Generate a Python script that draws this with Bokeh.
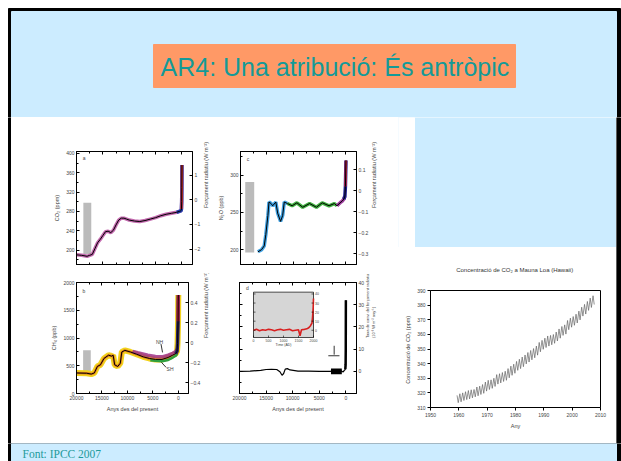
import math
from bokeh.plotting import figure
from bokeh.layouts import column, row
from bokeh.models import (Range1d, LinearAxis, SingleIntervalTicker, FixedTicker,
                          Label, Title, CustomLabelingPolicy)
from bokeh.core.properties import value
from bokeh.embed import file_html
from bokeh.resources import INLINE

# ---------------- texts ----------------
slide_title = "AR4: Una atribució: És antròpic"
source_note = "Font: IPCC 2007"
xlabel_bp = "Anys des del present"
rf_label = "Forçament radiatiu (W m⁻²)"

# ---------------- data ----------------
# panel a : CO2 (ppm) vs years before present
co2_years = [20000, 19000, 18000, 17500, 17000, 16500, 16000, 15500, 15000, 14500, 14000,
             13500, 13000, 12500, 12000, 11500, 11000, 10500, 10000, 9000, 8000, 7000,
             6000, 5000, 4000, 3000, 2000, 1000, 500, 250, 150, 100, 50, 25, 0]
co2_ppm = [190, 189, 187, 189, 191, 203, 215, 222, 230, 238, 239, 236, 241, 252, 262, 266,
           266, 264, 262, 260, 259, 261, 264, 267, 271, 274, 276, 278, 280, 281, 282, 285,
           300, 330, 376]

# panel b : CH4 (ppb)
ch4_years = [20000, 18000, 17100, 16500, 15900, 15300, 14600, 13700, 13100, 12800, 12500,
             11900, 11400, 11100, 10500, 9400, 8200, 6900, 5700, 4500, 3200, 2000, 1100,
             500, 250, 150, 50, 20, 0]
ch4_ppb = [370, 365, 350, 370, 487, 517, 632, 690, 673, 690, 517, 487, 545, 748, 777, 748,
           708, 661, 632, 614, 614, 649, 690, 720, 760, 900, 1300, 1650, 1775]
nh_years = [9000, 8000, 6000, 4500, 3200, 2000, 1100, 500, 250]
nh_ppb = [760, 735, 690, 665, 660, 690, 725, 755, 795]
sh_years = [5500, 4500, 3200, 2000, 1100, 500, 250]
sh_ppb = [600, 588, 580, 605, 648, 680, 715]

# panel c : N2O (ppb)
n2o_years = [16700, 16000, 15500, 15200, 14800, 14600, 14200, 13900, 13300, 12950, 12400,
             12000, 11700, 11100, 10200, 9300, 8200, 6900, 5600, 4500, 3200, 2200, 1700,
             950, 750, 400, 200, 100, 0]
n2o_ppb = [197, 200, 205, 220, 246, 264, 262, 259, 264, 249, 238, 246, 264, 262, 259, 263,
           257, 262, 257, 263, 259, 262, 259, 264, 265, 268, 272, 285, 320]

# panel d : rate of change of radiative forcing (10^-3 W m-2 yr-1)
rate_years = [20000, 18000, 16000, 15000, 14000, 13000, 12400, 12000, 11700, 11400, 11000,
              10500, 9000, 7000, 5000, 3000, 2000, 1000, 500, 300, 200, 100, 50, 20, 0]
rate_vals = [0, 0.1, 0.4, 0.8, 0.9, 0.8, -0.2, -1.8, -1.0, 1.0, 1.2, 0.6, 0.1, 0.1, 0.0,
             0.0, 0.2, 0.3, -0.3, 0.4, 0.6, 1.0, 3, 10, 32]
band_years = [2800, 760]
band_low = [-1.3, -1.3]
band_high = [1.3, 1.3]

# inset : rate vs year AD
inset_ad = [0, 100, 200, 300, 400, 500, 600, 700, 800, 900, 1000, 1100, 1200, 1300, 1400,
            1500, 1550, 1600, 1700, 1750, 1800, 1850, 1900, 1950, 1970, 1990, 2000]
inset_rate = [0, 1, -0.5, 0.5, 0, 1, 0.5, -0.5, 0.5, 1, 0, 0.5, 1, -0.5, 0, 0.5, -6, 0.5,
              1, 1.5, 2, 3, 5, 8, 15, 25, 35]
inset_xticks = [0, 500, 1000, 1500, 2000]
inset_yticks = [0, 10, 20, 30, 40]

# Mauna Loa: May maxima and October minima (ppm), 1959-2007
ml_years = list(range(1959, 2008))
ml_may = [318.3, 319.4, 320.0, 320.8, 321.6, 322.1, 322.3, 324.0, 324.6, 325.7, 327.4,
          328.6, 328.9, 330.0, 332.5, 333.1, 333.9, 334.8, 336.6, 338.3, 339.6, 341.5,
          343.0, 344.5, 345.9, 347.6, 349.0, 350.3, 352.0, 354.5, 355.9, 357.4, 358.9,
          359.3, 359.9, 361.6, 363.7, 365.4, 366.5, 369.5, 371.1, 372.2, 373.8, 375.9,
          378.6, 380.5, 382.5, 384.8, 386.4]
ml_oct = [313.3, 313.9, 314.8, 315.4, 315.9, 316.6, 317.3, 318.0, 318.9, 319.7, 321.2,
          322.3, 323.1, 324.4, 326.0, 326.8, 327.8, 328.6, 330.3, 332.0, 333.4, 335.4,
          336.6, 337.9, 339.8, 341.1, 342.6, 344.0, 345.8, 348.1, 349.8, 351.0, 352.0,
          352.9, 353.9, 355.5, 357.4, 359.3, 360.2, 363.2, 364.9, 366.2, 367.8, 369.9,
          372.5, 373.9, 376.4, 378.4, 380.4]

SANS = "Liberation Sans"
TXT = "#444444"
BLUE = "#CCECFF"
W = 621


def unalign(p):
    if "frame_align" in p.properties():
        p.frame_align = False


def no_labels():
    return CustomLabelingPolicy(code="for (const i of indices) { indices.unset(i) }\n"
                                     "return indices")


def style_axis(ax, size="5px", labels=True, inward=True):
    if inward:
        ax.major_tick_in = 3
        ax.major_tick_out = 0
        ax.minor_tick_in = 2
        ax.minor_tick_out = 0
    ax.axis_line_color = "black"
    ax.major_tick_line_color = "black"
    ax.minor_tick_line_color = "black"
    ax.major_label_text_font = SANS
    ax.major_label_text_font_size = size
    ax.major_label_text_color = TXT
    ax.major_label_standoff = 2
    if not labels:
        ax.major_label_policy = no_labels()
    ax.axis_label_text_font = SANS
    ax.axis_label_text_font_size = "5.5px"
    ax.axis_label_text_font_style = "normal"
    ax.axis_label_text_color = TXT
    ax.axis_label_standoff = 3


def blank(w, h, color):
    p = figure(width=w, height=h, x_range=Range1d(0, w), y_range=Range1d(h, 0),
               output_backend="svg", toolbar_location=None, min_border=0,
               min_border_left=0, min_border_right=0, min_border_top=0,
               min_border_bottom=0, x_axis_location=None, y_axis_location=None,
               outline_line_color=None, background_fill_color=color,
               border_fill_color=color)
    p.grid.visible = False
    unalign(p)
    return p


def ipcc_panel(w, h, bl, br, bt, bb, yr, yint, rr, rticks, ylabel, rlabel, xlabels,
               ylabels=True):
    p = figure(width=w, height=h, x_range=Range1d(20000, -2000), y_range=Range1d(*yr),
               output_backend="svg", toolbar_location=None,
               min_border_left=bl, min_border_right=br, min_border_top=bt,
               min_border_bottom=bb, x_axis_location=None, y_axis_location=None,
               border_fill_color="white", background_fill_color="white",
               outline_line_color="black")
    p.extra_y_ranges = {"r": Range1d(*rr)}
    bx = LinearAxis(ticker=SingleIntervalTicker(interval=5000, num_minor_ticks=2),
                    axis_label=xlabel_bp if xlabels else None)
    style_axis(bx, labels=xlabels)
    p.add_layout(bx, "below")
    tx = LinearAxis(ticker=SingleIntervalTicker(interval=5000, num_minor_ticks=2))
    style_axis(tx, labels=False)
    p.add_layout(tx, "above")
    ly = LinearAxis(ticker=SingleIntervalTicker(interval=yint, num_minor_ticks=2),
                    axis_label=ylabel)
    style_axis(ly, labels=ylabels)
    p.add_layout(ly, "left")
    ry = LinearAxis(y_range_name="r", ticker=FixedTicker(ticks=rticks), axis_label=rlabel)
    style_axis(ry)
    if "axis_label_orientation" in ry.properties():
        ry.axis_label_orientation = math.pi / 2
    p.add_layout(ry, "right")
    p.grid.visible = False
    return p


# ---------------- header (page rows 0..117) ----------------
header = blank(W, 117, "white")
header.quad(left=8, right=620, top=8, bottom=117, color="black")
header.quad(left=11, right=616, top=11, bottom=117, color=BLUE)
header.quad(left=153, right=515, top=44, bottom=87, color="#FF9966")
header.text(x=[160], y=[66], text=[slide_title], text_align="left",
            text_baseline="middle", text_font=value("Liberation Sans"),
            text_font_size="25px", text_color="#149A98")

# ---------------- footer (page rows 443..461) ----------------
footer = blank(W, 18, "white")
footer.quad(left=8, right=620, top=0, bottom=18, color="black")
footer.quad(left=11, right=616, top=0, bottom=18, color=BLUE)
footer.text(x=[22], y=[10], text=[source_note], text_align="left",
            text_baseline="middle", text_font=value("Liberation Serif"),
            text_font_size="11.5px", text_color="#1E9A9A")

# ---------------- panel a : CO2 ----------------
pa = ipcc_panel(204, 156, 65, 21, 34, 5, (170, 404), 40, (-2.63, 1.97),
                [-2, -1, 0, 1], "CO₂ (ppm)", rf_label, False)
pa.quad(left=18700, right=17200, bottom=192, top=298, color="#BBBBBB", line_color=None)
pa.line(co2_years, co2_ppm, line_color="#B4449A", line_width=3.5, line_alpha=0.8)
pa.line(co2_years[-8:], co2_ppm[-8:], line_color="#2040B0", line_width=3.5)
pa.line(co2_years[-4:], co2_ppm[-4:], line_color="#D03030", line_width=2.5)
pa.line(co2_years, co2_ppm, line_color="black", line_width=1)
pa.add_layout(Label(x=18800, y=385, text="a", text_font=SANS, text_font_size="5px",
                    text_color=TXT))

# ---------------- panel c : N2O ----------------
pc = ipcc_panel(183, 156, 24, 42, 34, 5, (180, 332), 50, (-0.35, 0.186),
                [-0.3, -0.2, -0.1, 0, 0.1], "N₂O (ppb)", rf_label, False)
pc.quad(left=19100, right=17400, bottom=196, top=291, color="#BBBBBB", line_color=None)
pc.line(n2o_years[:14], n2o_ppb[:14], line_color="#40A0E0", line_width=3.5)
pc.line(n2o_years[13:23], n2o_ppb[13:23], line_color="#40B040", line_width=3.5)
pc.line(n2o_years[22:27], n2o_ppb[22:27], line_color="#A040A0", line_width=3.5)
pc.line(n2o_years[25:], n2o_ppb[25:], line_color="#202090", line_width=3.5)
pc.line(n2o_years[-2:], n2o_ppb[-2:], line_color="#C02040", line_width=2.5)
pc.line(n2o_years, n2o_ppb, line_color="black", line_width=1)
pc.add_layout(Label(x=18800, y=318, text="c", text_font=SANS, text_font_size="5px",
                    text_color=TXT))

# ---------------- panel b : CH4 ----------------
pb = ipcc_panel(204, 170, 65, 21, 5, 50, (0, 2000), 500, (-0.51, 0.6),
                [-0.4, -0.2, 0, 0.2, 0.4], "CH₄ (ppb)", rf_label, True)
pb.quad(left=18700, right=17200, bottom=380, top=780, color="#BBBBBB", line_color=None)
pb.line(ch4_years, ch4_ppb, line_color="#F2D21C", line_width=6)
pb.line(ch4_years, ch4_ppb, line_color="#E07A20", line_width=2.5)
pb.line(nh_years, nh_ppb, line_color="#A0308A", line_width=3.5, line_alpha=0.85)
pb.line(sh_years, sh_ppb, line_color="#30A040", line_width=2.5)
pb.line(ch4_years[-6:], ch4_ppb[-6:], line_color="#2A2060", line_width=3.5)
pb.line(ch4_years[-3:], ch4_ppb[-3:], line_color="#C02040", line_width=3)
pb.line(ch4_years, ch4_ppb, line_color="black", line_width=1)
pb.segment(x0=[3400], y0=[890], x1=[3100], y1=[740], line_color="black", line_width=0.8)
pb.segment(x0=[2400], y0=[470], x1=[3300], y1=[560], line_color="black", line_width=0.8)
pb.add_layout(Label(x=4400, y=880, text="NH", text_font=SANS, text_font_size="5px",
                    text_color=TXT))
pb.add_layout(Label(x=2300, y=390, text="SH", text_font=SANS, text_font_size="5px",
                    text_color=TXT))
pb.add_layout(Label(x=18800, y=1790, text="b", text_font=SANS, text_font_size="5px",
                    text_color=TXT))

# ---------------- panel d : rate (+ inset through its own ranges) ----------------
pd_ = ipcc_panel(183, 170, 24, 42, 5, 50, (-10, 40), 10, (-10, 40),
                 [0, 10, 20, 30, 40], None,
                 "Taxa de canvi del forçament radiatiu\n(10⁻³ W m⁻² any⁻¹)", True,
                 ylabels=False)
pd_.right[0].axis_label_text_font_size = "4px"
pd_.varea(x=band_years, y1=band_low, y2=band_high, color="black")
pd_.line(rate_years, rate_vals, line_color="black", line_width=1.2)
pd_.line(rate_years[-4:], rate_vals[-4:], line_color="black", line_width=2.5)
pd_.segment(x0=[2200], y0=[11.5], x1=[2200], y1=[7.5], line_color="black", line_width=0.8)
pd_.segment(x0=[3300], y0=[7.0], x1=[1200], y1=[7.0], line_color="black", line_width=0.8)
pd_.add_layout(Label(x=18800, y=36, text="d", text_font=SANS, text_font_size="5px",
                     text_color=TXT))

# inset box inside panel d's frame (frame 117 x 115 px): 60 x 47 px, 14 px from left,
# 10 px from top
FW, FH = 117, 115
IL, IT, IW, IH = 14, 10, 60, 47
ix0, ix1 = 0, 2000
iy0, iy1 = -8, 42
sx = (ix1 - ix0) / IW
sy = (iy1 - iy0) / IH
pd_.extra_x_ranges = {"ix": Range1d(ix0 - IL * sx, ix1 + (FW - IL - IW) * sx)}
pd_.extra_y_ranges["iy"] = Range1d(iy0 - (FH - IT - IH) * sy, iy1 + IT * sy)
kw = dict(x_range_name="ix", y_range_name="iy")
pd_.quad(left=ix0, right=ix1, bottom=iy0, top=iy1, fill_color="#D6D6D6",
         line_color="black", line_width=0.7, **kw)
pd_.line(inset_ad, inset_rate, line_color="#D82020", line_width=1.6, **kw)
pd_.segment(x0=inset_xticks, y0=[iy0] * 5, x1=inset_xticks, y1=[iy0 + 2 * sy] * 5,
            line_color="black", line_width=0.6, **kw)
pd_.segment(x0=[ix1] * 5, y0=inset_yticks, x1=[ix1 - 2 * sx] * 5, y1=inset_yticks,
            line_color="black", line_width=0.6, **kw)
pd_.segment(x0=[ix0] * 5, y0=inset_yticks, x1=[ix0 + 2 * sx] * 5, y1=inset_yticks,
            line_color="black", line_width=0.6, **kw)
pd_.text(x=inset_xticks, y=[iy0 - 1.5 * sy] * 5, text=[str(t) for t in inset_xticks],
         text_align="center", text_baseline="top", text_font=value(SANS),
         text_font_size="3.5px", text_color=TXT, **kw)
pd_.text(x=[(ix0 + ix1) / 2], y=[iy0 - 6 * sy], text=["Time (AD)"], text_align="center",
         text_baseline="top", text_font=value(SANS), text_font_size="3.5px",
         text_color=TXT, **kw)
pd_.text(x=[ix1 + 1.5 * sx] * 5, y=inset_yticks, text=[str(t) for t in inset_yticks],
         text_align="left", text_baseline="middle", text_font=value(SANS),
         text_font_size="3.5px", text_color=TXT, **kw)

# ---------------- right column: blue area + Mauna Loa chart ----------------
rtop = blank(218, 130, BLUE)
rtop.quad(left=0, right=16, top=0, bottom=130, color="white")

ml = figure(width=218, height=196, x_range=Range1d(1950, 2010), y_range=Range1d(310, 390),
            output_backend="svg", toolbar_location=None, min_border_left=32,
            min_border_right=16, min_border_top=40, min_border_bottom=36,
            border_fill_color="white", background_fill_color="white",
            outline_line_color="black")
unalign(ml)
ml.grid.visible = False
ml.xaxis.ticker = SingleIntervalTicker(interval=10, num_minor_ticks=0)
ml.yaxis.ticker = SingleIntervalTicker(interval=10, num_minor_ticks=0)
for ax in (ml.xaxis[0], ml.yaxis[0]):
    style_axis(ax, inward=False)
    ax.major_tick_out = 3
    ax.major_tick_in = 0
    ax.minor_tick_out = 0
ml.xaxis.axis_label = "Any"
ml.yaxis.axis_label = "Concentració de CO₂  (ppm)"
ml.title = Title(text="Concentració de CO₂  a Mauna Loa (Hawaii)", align="center",
                 text_font=SANS, text_font_size="6px", text_color="#333333",
                 text_font_style="normal", standoff=35)
ml_x = []
ml_y = []
for yy, hi, lo in zip(ml_years, ml_may, ml_oct):
    ml_x += [yy + 0.37, yy + 0.79]
    ml_y += [hi, lo]
ml.line(ml_x, ml_y, line_color="#666666", line_width=0.7)

# ---------------- assemble ----------------
lstrip = blank(11, 326, "white")
lstrip.quad(left=8, right=11, top=0, bottom=326, color="black")
rstrip = blank(5, 326, "white")
rstrip.quad(left=0, right=4, top=0, bottom=326, color="black")
ipcc = column(row(pa, pc, spacing=0), row(pb, pd_, spacing=0), spacing=0)
right = column(rtop, ml, spacing=0)
middle = row(lstrip, ipcc, right, rstrip, spacing=0)
root = column(header, middle, footer, spacing=0)

open("out.html", "w").write(file_html(root, INLINE))
